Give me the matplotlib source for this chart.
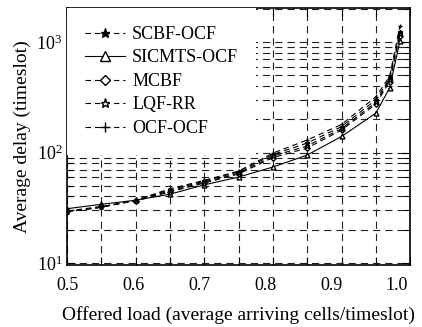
import matplotlib
matplotlib.use("Agg")
import matplotlib.pyplot as plt
import numpy as np

plt.rcParams["font.family"] = ["Liberation Serif", "DejaVu Serif"]
plt.rcParams["mathtext.fontset"] = "stix"

# offered load and average delay (timeslot)
load = [0.5, 0.55, 0.6, 0.65, 0.7, 0.75, 0.8, 0.85, 0.9, 0.95, 0.97, 0.985]
scbf_ocf = [29, 32, 37, 46, 55, 67, 96, 122, 172, 300, 470, 1250]
sicmts_ocf = [31, 34, 37, 42, 51, 60, 74, 95, 140, 228, 385, 1020]
mcbf = [29.5, 32.5, 36.5, 44, 53, 64, 90, 110, 160, 275, 440, 1150]
lqf_rr = [29, 32, 37, 45, 54, 65, 93, 115, 165, 285, 455, 1200]
ocf_ocf = [29, 32, 37, 47, 56, 68, 99, 130, 180, 320, 490, 1400]

xgrid = np.arange(0.5, 1.001, 0.05)
xlabels = [0.5, 0.6, 0.7, 0.8, 0.9, 1.0]

fig = plt.figure(figsize=(4.22, 3.27), dpi=100)
ax = fig.add_axes([0.159, 0.19, 0.813, 0.786])

dash = (0, (5, 3.5))
kw = dict(color="black", lw=0.8, ms=3.5)
ax.plot(load, scbf_ocf, ls=dash, marker="*", label="SCBF-OCF", **kw)
ax.plot(load, sicmts_ocf, ls="-", marker="^", mfc="white", label="SICMTS-OCF", **kw)
ax.plot(load, mcbf, ls=dash, marker="D", mfc="white", label="MCBF", color="black", lw=0.8, ms=2.8)
ax.plot(load, lqf_rr, ls=dash, marker="*", mfc="white", label="LQF-RR", **kw)
ax.plot(load, ocf_ocf, ls=dash, marker="+", label="OCF-OCF", **kw)

ax.set_yscale("log")
ax.set_xlim(0.5, 1.0)
ax.set_ylim(9.6, 2050)
ax.set_xticks(xgrid)
ax.tick_params(axis="x", labelbottom=False)
ax.tick_params(which="both", direction="in", top=True, right=True, width=0.8)
ax.tick_params(which="major", length=6)
ax.tick_params(which="minor", length=4)
ax.tick_params(axis="y", labelsize=13)
ax.grid(True, which="both", color="#222222", lw=0.8, ls=(0, (6.5, 4.5)))
for s in ax.spines.values():
    s.set_linewidth(1.2)

# tick labels run on their own scale (0.5 .. 1.02)
sec = ax.secondary_xaxis("bottom", functions=(lambda x: 0.5 + (x - 0.5) * 1.04,
                                               lambda v: 0.5 + (v - 0.5) / 1.04))
sec.set_xticks(xlabels)
sec.set_xticklabels([f"{v:.1f}" for v in xlabels])
sec.tick_params(length=0, labelsize=13, pad=9)
sec.spines["bottom"].set_visible(False)

ax.set_xlabel("Offered load (average arriving cells/timeslot)", fontsize=14, labelpad=30)
ax.set_ylabel("Average delay (timeslot)", fontsize=14, labelpad=4)

leg = ax.legend(loc="upper left", bbox_to_anchor=(0, 1), borderaxespad=0.0,
                fontsize=13, frameon=True, fancybox=False, framealpha=1,
                edgecolor="white", handlelength=2.2, handletextpad=0.4,
                labelspacing=0.36, borderpad=1.0, markerscale=1.9)
leg.get_frame().set_linewidth(0)

fig.savefig("out.png", dpi=100)
